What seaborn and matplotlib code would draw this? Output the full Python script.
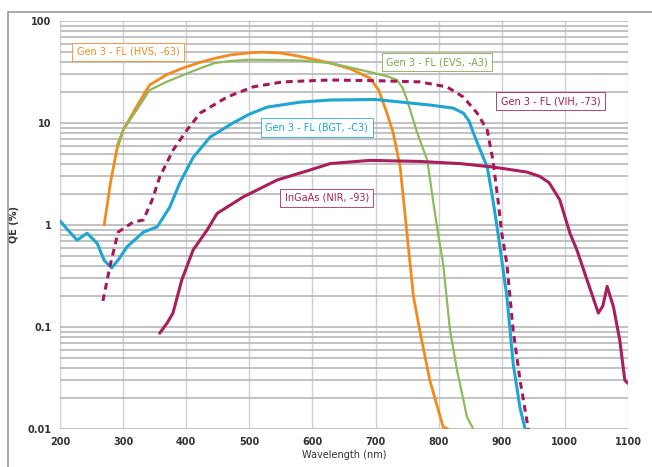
import matplotlib
matplotlib.use("Agg")
import matplotlib.pyplot as plt
from matplotlib.lines import Line2D
from matplotlib.ticker import LogLocator, FixedLocator, FixedFormatter
import seaborn as sns
import pandas as pd

# Gen 3 - FL (HVS, -63)
hvs_nm = [270, 280, 290, 300, 320, 342, 370, 395, 420, 445, 470, 498, 520, 550, 580, 628,
          660, 691, 705, 718, 728, 739, 750, 760, 770, 786, 807, 815]
hvs_qe = [1.0, 2.6, 5.5, 8.5, 14, 23.6, 30, 34.6, 39, 43, 46.5, 48.6, 49.5, 48.5, 45, 38.7,
          34, 27.6, 21, 12.5, 8.0, 3.7, 0.8, 0.2, 0.093, 0.030, 0.0105, 0.01]

# Gen 3 - FL (EVS, -A3)
evs_nm = [290, 300, 320, 342, 370, 395, 420, 445, 470, 498, 540, 580, 628, 660, 691, 720, 734,
          743, 750, 766, 782, 791, 799, 807, 818, 829, 845, 855]
evs_qe = [6.0, 8.5, 13, 21, 25.5, 29.5, 34, 38.7, 40.5, 41.7, 41.5, 41, 38.7, 35, 31.6, 28.5, 26.4,
          22, 16.8, 8.0, 4.3, 1.76, 0.83, 0.42, 0.093, 0.038, 0.013, 0.01]

# Gen 3 - FL (BGT, -C3)
bgt_nm = [200, 212, 227, 243, 259, 270, 282, 294, 306, 332, 354, 374, 390, 411, 438, 474,
          500, 528, 580, 628, 700, 786, 823, 839, 848, 855, 866, 877, 886, 894, 908, 918, 929, 937]
bgt_qe = [1.1, 0.9, 0.71, 0.83, 0.66, 0.45, 0.38, 0.47, 0.61, 0.85, 0.96, 1.5, 2.6, 4.6, 7.3, 10,
          12.2, 14.3, 16, 16.8, 17, 15, 14, 12.5, 10.5, 8.0, 5.4, 3.7, 1.76, 0.83, 0.2, 0.044, 0.016, 0.01]

# Gen 3 - FL (VIH, -73)
vih_nm = [268, 279, 292, 316, 332, 346, 358, 379, 401, 422, 465, 506, 553, 628, 700, 770,
          813, 839, 861, 877, 886, 894, 900, 908, 918, 929, 942]
vih_qe = [0.18, 0.39, 0.85, 1.07, 1.12, 1.76, 2.95, 5.4, 8.5, 12.5, 18, 22.6, 25.3, 26.4, 26, 25.3,
          22.6, 18, 12.5, 8.5, 4.3, 1.76, 0.83, 0.42, 0.093, 0.03, 0.01]

# InGaAs (NIR, -93)
nir_nm = [358, 370, 379, 393, 411, 433, 449, 490, 544, 596, 628, 691, 770, 834, 886, 940, 960,
          975, 992, 1008, 1019, 1035, 1053, 1060, 1067, 1077, 1087, 1095, 1100]
nir_qe = [0.087, 0.11, 0.137, 0.29, 0.57, 0.89, 1.3, 1.88, 2.76, 3.46, 4.0, 4.3, 4.2, 4.0, 3.7,
          3.3, 3.0, 2.6, 1.76, 0.83, 0.57, 0.29, 0.137, 0.16, 0.25, 0.157, 0.074, 0.03, 0.028]

x_ticks = [200, 300, 400, 500, 600, 700, 800, 900, 1000, 1100]
y_ticks = [0.01, 0.1, 1, 10, 100]
y_tick_labels = ["0.01", "0.1", "1", "10", "100"]

sns.set_style("whitegrid")
plt.rcParams["font.family"] = ["DejaVu Sans"]

fig = plt.figure(figsize=(6.52, 4.67), dpi=100)
ax = fig.add_axes([60 / 652, 38 / 467, 568 / 652, 408 / 467])

series = [
    (hvs_nm, hvs_qe, "#f28a1e", "-", 2.0),
    (evs_nm, evs_qe, "#8dbb5c", "-", 1.6),
    (bgt_nm, bgt_qe, "#1ea6d3", "-", 2.2),
    (vih_nm, vih_qe, "#a5195b", (0, (2.2, 1.6)), 2.2),
    (nir_nm, nir_qe, "#a81f5c", "-", 2.2),
]
for nm, qe, color, style, lw in series:
    df = pd.DataFrame({"nm": nm, "qe": qe})
    sns.lineplot(data=df, x="nm", y="qe", ax=ax, color=color, linewidth=lw,
                 linestyle=style, sort=False)

ax.set_yscale("log")
ax.set_xlim(200, 1100)
ax.set_ylim(0.01, 100)
ax.xaxis.set_major_locator(FixedLocator(x_ticks))
ax.yaxis.set_major_locator(FixedLocator(y_ticks))
ax.yaxis.set_major_formatter(FixedFormatter(y_tick_labels))
ax.yaxis.set_minor_locator(LogLocator(base=10, subs=range(2, 10)))
ax.grid(True, which="major", axis="x", color="#d0d0d0", linewidth=1.0)
ax.grid(True, which="major", axis="y", color="#b8b8b8", linewidth=1.2)
ax.grid(True, which="minor", axis="y", color="#b8b8b8", linewidth=1.2)
ax.tick_params(axis="both", which="both", length=0, labelsize=7, pad=6)
for lab in ax.get_xticklabels() + ax.get_yticklabels():
    lab.set_fontweight("bold")
    lab.set_color("#333333")
for s in ax.spines.values():
    s.set_visible(False)

ax.set_xlabel("Wavelength (nm)", fontsize=7, color="#333333", labelpad=2)
ax.set_ylabel("QE (%)", fontsize=7, fontweight="bold", color="#333333", labelpad=6)

labels = [
    ("Gen 3 - FL (HVS, -63)", 308, 49.7, "#f28a1e"),
    ("Gen 3 - FL (EVS, -A3)", 797, 39.6, "#7aa84a"),
    ("Gen 3 - FL (VIH, -73)", 977, 16.4, "#a5195b"),
    ("Gen 3 - FL (BGT, -C3)", 607, 9.1, "#1ea6d3"),
    ("InGaAs (NIR, -93)", 623, 1.84, "#a81f5c"),
]
for text, x, y, color in labels:
    ax.text(x, y, text, fontsize=7, color=color, ha="center", va="center",
            bbox=dict(boxstyle="square,pad=0.45", facecolor="white",
                      edgecolor=color, linewidth=0.6, alpha=0.95))

# thin frame around the picture
fig.add_artist(Line2D([8 / 652, 1], [1 - 12 / 467, 1 - 12 / 467], color="#9a9a9a", linewidth=1.2))
fig.add_artist(Line2D([8 / 652, 8 / 652], [0, 1 - 12 / 467], color="#9a9a9a", linewidth=1.2))

fig.savefig("out.png", dpi=100)
